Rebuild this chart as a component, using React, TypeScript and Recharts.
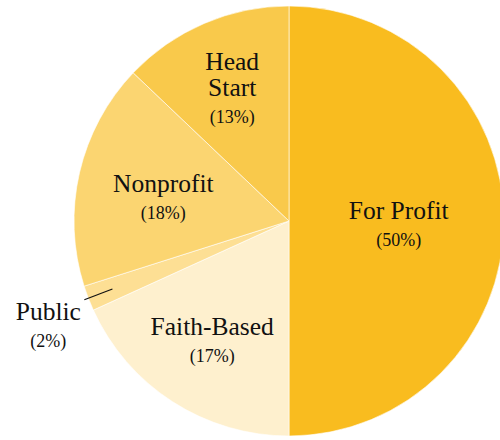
import React from 'react'
import { PieChart, Pie, Cell } from 'recharts'

const categories = ['For Profit', 'Faith-Based', 'Public', 'Nonprofit', 'Head Start']
// slice sizes as drawn
const shares = [50, 18.2, 1.9, 17.0, 12.9]
// percentages as printed on the chart
const printedPct = [50, 17, 2, 18, 13]
const sliceColors = ['#F9BC1F', '#FEF0CE', '#FDDF94', '#FBD571', '#F9C94B']

const data = categories.map((name, i) => ({ name, value: shares[i], pct: printedPct[i] }))

// label placement: fraction of radius, plus a small vertical nudge
const labelPlace: Record<string, { r: number; dy: number }> = {
  'For Profit': { r: 0.51, dy: 4 },
  'Faith-Based': { r: 0.66, dy: 1 },
  Public: { r: 1.02, dy: 0 },
  Nonprofit: { r: 0.6, dy: 6 },
  'Head Start': { r: 0.67, dy: 0 },
}

const RAD = Math.PI / 180
const FONT = "'Liberation Serif', 'DejaVu Serif', serif"

function renderLabel(props: any) {
  const { cx, cy, midAngle, outerRadius, name, payload } = props
  const place = labelPlace[name] ?? { r: 0.6, dy: 0 }
  const cos = Math.cos(-midAngle * RAD)
  const sin = Math.sin(-midAngle * RAD)
  const lines = name === 'Head Start' ? name.split(' ') : [name]
  const pct = `(${payload.pct}%)`
  const nameStyle = { fontFamily: FONT, fontSize: 25.5 }
  const pctStyle = { fontFamily: FONT, fontSize: 18 }

  if (name === 'Public') {
    const x0 = cx + outerRadius * 0.88 * cos
    const y0 = cy + outerRadius * 0.88 * sin
    const x1 = cx + outerRadius * 1.02 * cos
    const y1 = cy + outerRadius * 1.02 * sin
    const tx = x1 - 36
    return (
      <g>
        <line x1={x0} y1={y0} x2={x1} y2={y1} stroke="#111" strokeWidth={1.2} />
        <text x={tx} y={y1 + 20} textAnchor="middle" style={nameStyle} fill="#111">
          {name}
        </text>
        <text x={tx} y={y1 + 47} textAnchor="middle" style={pctStyle} fill="#111">
          {pct}
        </text>
      </g>
    )
  }

  const x = cx + outerRadius * place.r * cos
  const y = cy + outerRadius * place.r * sin + place.dy
  const lineH = 26
  const total = lines.length * lineH + 26
  const top = y - total / 2 + 20
  return (
    <g>
      {lines.map((l: string, i: number) => (
        <text key={l} x={x} y={top + i * lineH} textAnchor="middle" style={nameStyle} fill="#111">
          {l}
        </text>
      ))}
      <text x={x} y={top + lines.length * lineH + 1} textAnchor="middle" style={pctStyle} fill="#111">
        {pct}
      </text>
    </g>
  )
}

export default function App() {
  return (
    <div style={{ position: 'absolute', left: 0, top: 0, width: 500, height: 440, background: '#fff' }}>
      <PieChart width={500} height={440} margin={{ top: 0, right: 0, bottom: 0, left: 0 }}>
        <Pie
          data={data}
          dataKey="value"
          nameKey="name"
          cx={289}
          cy={221}
          outerRadius={215}
          startAngle={90}
          endAngle={-270}
          stroke="#ffffff"
          strokeWidth={0.6}
          label={renderLabel}
          labelLine={false}
          isAnimationActive={false}
        >
          {data.map((d, i) => (
            <Cell key={d.name} fill={sliceColors[i]} />
          ))}
        </Pie>
      </PieChart>
    </div>
  )
}
